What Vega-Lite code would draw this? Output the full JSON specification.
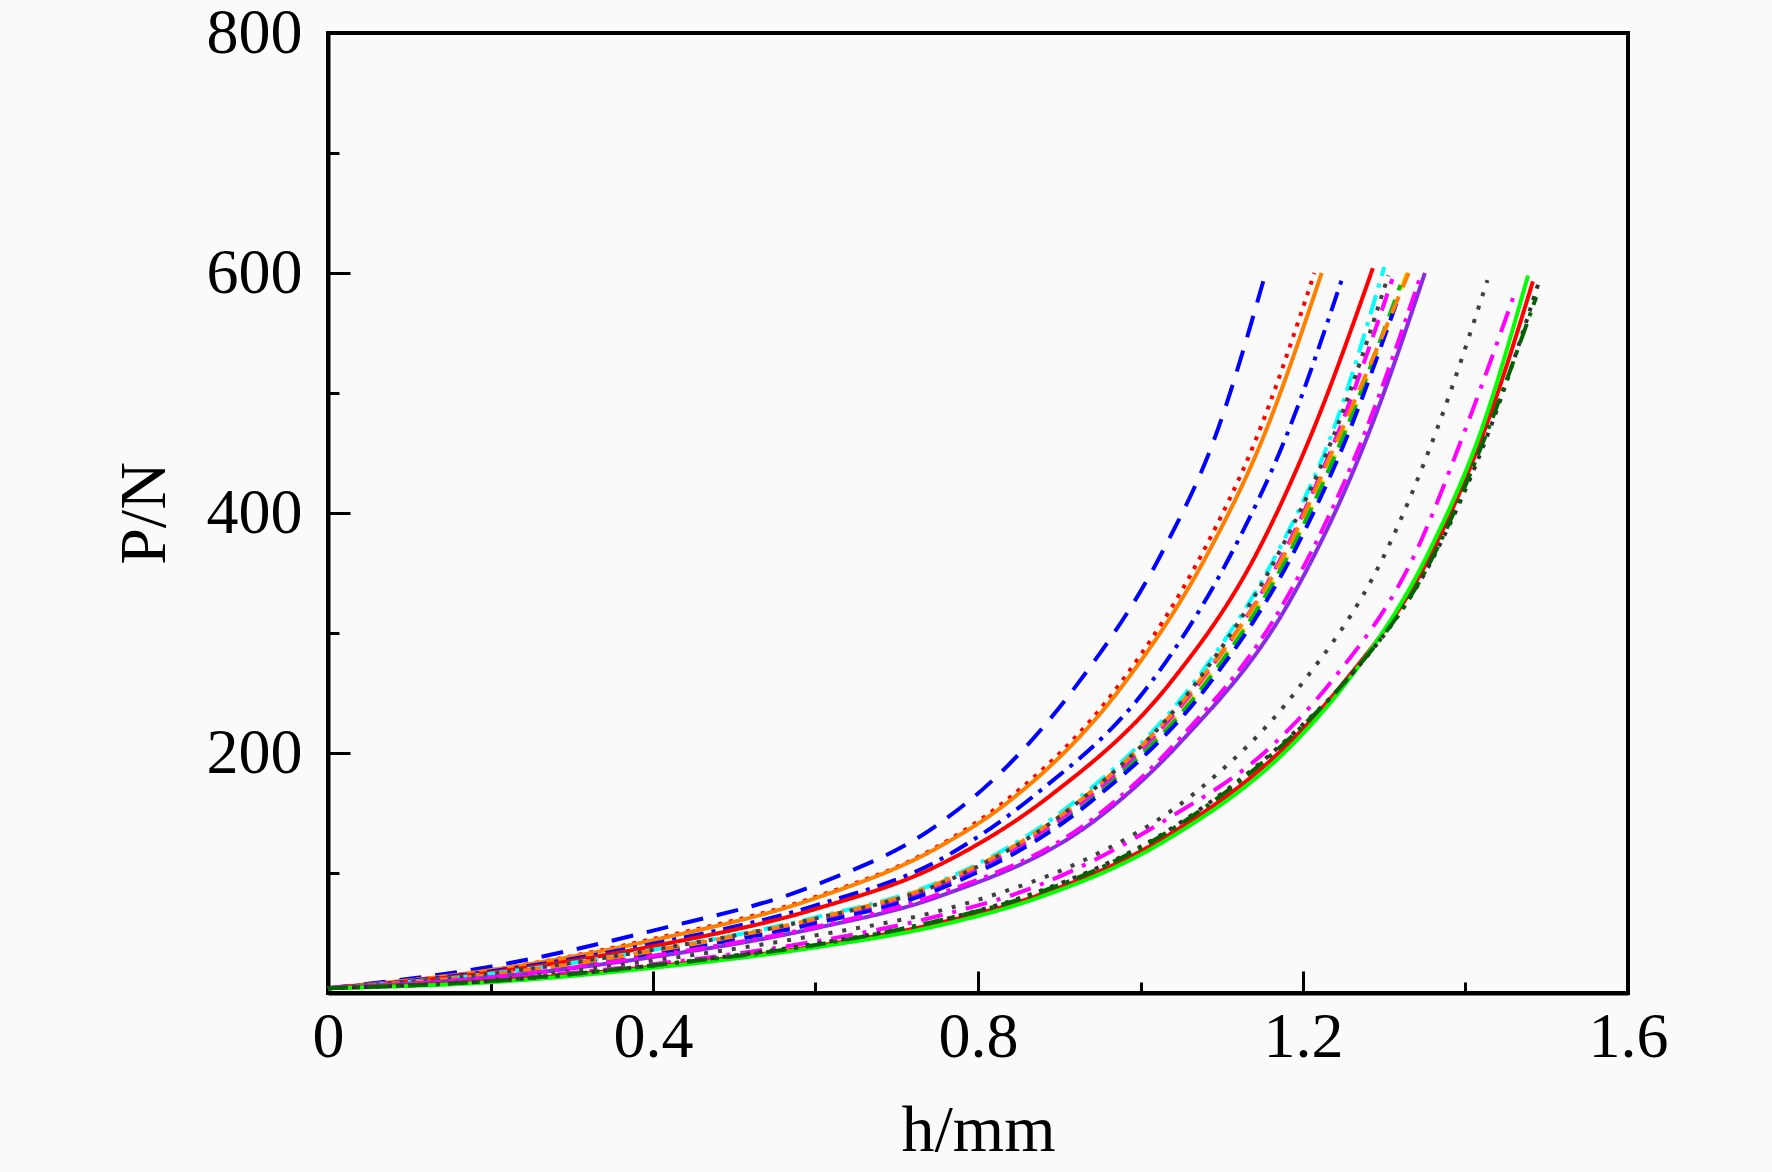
{
  "$schema": "https://vega.github.io/schema/vega-lite/v6.json",
  "width": 1300,
  "height": 960,
  "autosize": {"type": "none"},
  "padding": {"left": 328, "top": 33, "right": 144, "bottom": 179},
  "background": "#FAFAFA",
  "config": {
    "view": {"stroke": "#000000", "strokeWidth": 4},
    "axis": {
      "domainColor": "#000000", "domainWidth": 4,
      "tickColor": "#000000", "tickWidth": 3,
      "labelFont": "Liberation Serif", "labelFontSize": 64, "labelColor": "#000000",
      "titleFont": "Liberation Serif", "titleFontSize": 66, "titleFontWeight": "normal", "titleColor": "#000000",
      "grid": false, "labelOverlap": false, "labelFlush": false, "labelBound": false
    }
  },
  "data": {
    "values": [
      {"s": "c01", "h": 0, "P": 4}, {"s": "c01", "h": 0.2, "P": 22}, {"s": "c01", "h": 0.4, "P": 52}, {"s": "c01", "h": 0.6, "P": 90}, {"s": "c01", "h": 0.75, "P": 140}, {"s": "c01", "h": 0.83, "P": 185}, {"s": "c01", "h": 0.923, "P": 258}, {"s": "c01", "h": 1.028, "P": 369}, {"s": "c01", "h": 1.09, "P": 460}, {"s": "c01", "h": 1.154, "P": 600},
      {"s": "c02", "h": 0, "P": 4}, {"s": "c02", "h": 0.2, "P": 19}, {"s": "c02", "h": 0.4, "P": 45}, {"s": "c02", "h": 0.6, "P": 80}, {"s": "c02", "h": 0.75, "P": 122}, {"s": "c02", "h": 0.83, "P": 158}, {"s": "c02", "h": 0.975, "P": 258}, {"s": "c02", "h": 1.078, "P": 369}, {"s": "c02", "h": 1.14, "P": 458}, {"s": "c02", "h": 1.214, "P": 600},
      {"s": "c03", "h": 0, "P": 4}, {"s": "c03", "h": 0.2, "P": 19}, {"s": "c03", "h": 0.4, "P": 44}, {"s": "c03", "h": 0.6, "P": 79}, {"s": "c03", "h": 0.75, "P": 121}, {"s": "c03", "h": 0.835, "P": 158}, {"s": "c03", "h": 0.98, "P": 258}, {"s": "c03", "h": 1.085, "P": 369}, {"s": "c03", "h": 1.148, "P": 458}, {"s": "c03", "h": 1.223, "P": 600},
      {"s": "c04", "h": 0, "P": 4}, {"s": "c04", "h": 0.2, "P": 18}, {"s": "c04", "h": 0.4, "P": 41}, {"s": "c04", "h": 0.6, "P": 73}, {"s": "c04", "h": 0.75, "P": 110}, {"s": "c04", "h": 0.87, "P": 165}, {"s": "c04", "h": 1.012, "P": 258}, {"s": "c04", "h": 1.114, "P": 369}, {"s": "c04", "h": 1.177, "P": 460}, {"s": "c04", "h": 1.248, "P": 595},
      {"s": "c05", "h": 0, "P": 4}, {"s": "c05", "h": 0.2, "P": 17}, {"s": "c05", "h": 0.4, "P": 39}, {"s": "c05", "h": 0.6, "P": 70}, {"s": "c05", "h": 0.75, "P": 106}, {"s": "c05", "h": 0.89, "P": 165}, {"s": "c05", "h": 1.036, "P": 258}, {"s": "c05", "h": 1.145, "P": 369}, {"s": "c05", "h": 1.21, "P": 465}, {"s": "c05", "h": 1.286, "P": 604},
      {"s": "c06", "h": 0, "P": 4}, {"s": "c06", "h": 0.2, "P": 15}, {"s": "c06", "h": 0.4, "P": 35}, {"s": "c06", "h": 0.6, "P": 61}, {"s": "c06", "h": 0.75, "P": 90}, {"s": "c06", "h": 0.93, "P": 160}, {"s": "c06", "h": 1.078, "P": 258}, {"s": "c06", "h": 1.185, "P": 369}, {"s": "c06", "h": 1.25, "P": 465}, {"s": "c06", "h": 1.328, "P": 600},
      {"s": "c07", "h": 0, "P": 4}, {"s": "c07", "h": 0.2, "P": 16}, {"s": "c07", "h": 0.4, "P": 36}, {"s": "c07", "h": 0.6, "P": 63}, {"s": "c07", "h": 0.75, "P": 92}, {"s": "c07", "h": 0.92, "P": 160}, {"s": "c07", "h": 1.065, "P": 258}, {"s": "c07", "h": 1.17, "P": 369}, {"s": "c07", "h": 1.235, "P": 465}, {"s": "c07", "h": 1.3, "P": 605},
      {"s": "c08", "h": 0, "P": 4}, {"s": "c08", "h": 0.2, "P": 15}, {"s": "c08", "h": 0.4, "P": 34}, {"s": "c08", "h": 0.6, "P": 60}, {"s": "c08", "h": 0.75, "P": 88}, {"s": "c08", "h": 0.935, "P": 160}, {"s": "c08", "h": 1.08, "P": 258}, {"s": "c08", "h": 1.185, "P": 369}, {"s": "c08", "h": 1.25, "P": 465}, {"s": "c08", "h": 1.32, "P": 590},
      {"s": "c09", "h": 0, "P": 4}, {"s": "c09", "h": 0.2, "P": 15}, {"s": "c09", "h": 0.4, "P": 35}, {"s": "c09", "h": 0.6, "P": 61}, {"s": "c09", "h": 0.75, "P": 89}, {"s": "c09", "h": 0.93, "P": 160}, {"s": "c09", "h": 1.072, "P": 258}, {"s": "c09", "h": 1.178, "P": 369}, {"s": "c09", "h": 1.242, "P": 465}, {"s": "c09", "h": 1.31, "P": 595},
      {"s": "c10", "h": 0, "P": 4}, {"s": "c10", "h": 0.2, "P": 14}, {"s": "c10", "h": 0.4, "P": 33}, {"s": "c10", "h": 0.6, "P": 58}, {"s": "c10", "h": 0.75, "P": 86}, {"s": "c10", "h": 0.94, "P": 160}, {"s": "c10", "h": 1.085, "P": 258}, {"s": "c10", "h": 1.19, "P": 369}, {"s": "c10", "h": 1.255, "P": 465}, {"s": "c10", "h": 1.315, "P": 575},
      {"s": "c11", "h": 0, "P": 4}, {"s": "c11", "h": 0.2, "P": 15}, {"s": "c11", "h": 0.4, "P": 35}, {"s": "c11", "h": 0.6, "P": 62}, {"s": "c11", "h": 0.75, "P": 91}, {"s": "c11", "h": 0.925, "P": 160}, {"s": "c11", "h": 1.07, "P": 258}, {"s": "c11", "h": 1.18, "P": 369}, {"s": "c11", "h": 1.245, "P": 465}, {"s": "c11", "h": 1.33, "P": 600},
      {"s": "c12", "h": 0, "P": 4}, {"s": "c12", "h": 0.2, "P": 16}, {"s": "c12", "h": 0.4, "P": 36}, {"s": "c12", "h": 0.6, "P": 62}, {"s": "c12", "h": 0.75, "P": 90}, {"s": "c12", "h": 0.925, "P": 160}, {"s": "c12", "h": 1.068, "P": 258}, {"s": "c12", "h": 1.172, "P": 369}, {"s": "c12", "h": 1.238, "P": 465}, {"s": "c12", "h": 1.305, "P": 598},
      {"s": "c13", "h": 0, "P": 4}, {"s": "c13", "h": 0.2, "P": 13}, {"s": "c13", "h": 0.4, "P": 30}, {"s": "c13", "h": 0.6, "P": 54}, {"s": "c13", "h": 0.75, "P": 80}, {"s": "c13", "h": 0.95, "P": 147}, {"s": "c13", "h": 1.052, "P": 211}, {"s": "c13", "h": 1.184, "P": 327}, {"s": "c13", "h": 1.28, "P": 465}, {"s": "c13", "h": 1.35, "P": 600},
      {"s": "c14", "h": 0, "P": 4}, {"s": "c14", "h": 0.2, "P": 13}, {"s": "c14", "h": 0.4, "P": 31}, {"s": "c14", "h": 0.6, "P": 55}, {"s": "c14", "h": 0.75, "P": 82}, {"s": "c14", "h": 0.945, "P": 147}, {"s": "c14", "h": 1.047, "P": 211}, {"s": "c14", "h": 1.178, "P": 327}, {"s": "c14", "h": 1.275, "P": 465}, {"s": "c14", "h": 1.345, "P": 598},
      {"s": "c15", "h": 0, "P": 4}, {"s": "c15", "h": 0.2, "P": 11}, {"s": "c15", "h": 0.4, "P": 27}, {"s": "c15", "h": 0.6, "P": 48}, {"s": "c15", "h": 0.75, "P": 68}, {"s": "c15", "h": 0.825, "P": 83}, {"s": "c15", "h": 0.922, "P": 108}, {"s": "c15", "h": 1.071, "P": 169}, {"s": "c15", "h": 1.192, "P": 252}, {"s": "c15", "h": 1.303, "P": 369}, {"s": "c15", "h": 1.365, "P": 470}, {"s": "c15", "h": 1.427, "P": 594},
      {"s": "c16", "h": 0, "P": 4}, {"s": "c16", "h": 0.2, "P": 11}, {"s": "c16", "h": 0.4, "P": 24}, {"s": "c16", "h": 0.6, "P": 43}, {"s": "c16", "h": 0.75, "P": 64}, {"s": "c16", "h": 0.868, "P": 88}, {"s": "c16", "h": 1.033, "P": 145}, {"s": "c16", "h": 1.16, "P": 205}, {"s": "c16", "h": 1.233, "P": 258}, {"s": "c16", "h": 1.34, "P": 369}, {"s": "c16", "h": 1.4, "P": 470}, {"s": "c16", "h": 1.46, "P": 582},
      {"s": "c17", "h": 0, "P": 4}, {"s": "c17", "h": 0.2, "P": 10}, {"s": "c17", "h": 0.4, "P": 22}, {"s": "c17", "h": 0.6, "P": 39}, {"s": "c17", "h": 0.75, "P": 58}, {"s": "c17", "h": 0.868, "P": 80}, {"s": "c17", "h": 1.033, "P": 131}, {"s": "c17", "h": 1.194, "P": 216}, {"s": "c17", "h": 1.248, "P": 257}, {"s": "c17", "h": 1.36, "P": 369}, {"s": "c17", "h": 1.424, "P": 470}, {"s": "c17", "h": 1.483, "P": 593},
      {"s": "c18", "h": 0, "P": 4}, {"s": "c18", "h": 0.2, "P": 9}, {"s": "c18", "h": 0.4, "P": 21}, {"s": "c18", "h": 0.6, "P": 38}, {"s": "c18", "h": 0.75, "P": 56}, {"s": "c18", "h": 0.868, "P": 78}, {"s": "c18", "h": 1.033, "P": 128}, {"s": "c18", "h": 1.194, "P": 212}, {"s": "c18", "h": 1.248, "P": 254}, {"s": "c18", "h": 1.356, "P": 369}, {"s": "c18", "h": 1.42, "P": 470}, {"s": "c18", "h": 1.477, "P": 598},
      {"s": "c19", "h": 0, "P": 4}, {"s": "c19", "h": 0.2, "P": 10}, {"s": "c19", "h": 0.4, "P": 23}, {"s": "c19", "h": 0.6, "P": 41}, {"s": "c19", "h": 0.75, "P": 60}, {"s": "c19", "h": 0.868, "P": 83}, {"s": "c19", "h": 1.033, "P": 135}, {"s": "c19", "h": 1.194, "P": 220}, {"s": "c19", "h": 1.25, "P": 258}, {"s": "c19", "h": 1.365, "P": 369}, {"s": "c19", "h": 1.43, "P": 470}, {"s": "c19", "h": 1.49, "P": 592},
      {"s": "c20", "h": 0, "P": 4}, {"s": "c20", "h": 0.2, "P": 10}, {"s": "c20", "h": 0.4, "P": 23}, {"s": "c20", "h": 0.6, "P": 40}, {"s": "c20", "h": 0.75, "P": 60}, {"s": "c20", "h": 0.868, "P": 82}, {"s": "c20", "h": 1.033, "P": 134}, {"s": "c20", "h": 1.194, "P": 219}, {"s": "c20", "h": 1.25, "P": 258}, {"s": "c20", "h": 1.364, "P": 369}, {"s": "c20", "h": 1.428, "P": 470}, {"s": "c20", "h": 1.487, "P": 580}
    ]
  },
  "mark": {"type": "line", "strokeWidth": 4, "interpolate": "monotone", "strokeCap": "butt"},
  "encoding": {
    "x": {
      "field": "h", "type": "quantitative",
      "scale": {"domain": [0, 1.6], "nice": false},
      "axis": {
        "title": "h/mm",
        "values": [0, 0.2, 0.4, 0.6, 0.8, 1.0, 1.2, 1.4, 1.6],
        "tickSize": {"condition": {"test": "round(datum.value * 10) % 4 == 0", "value": -22}, "value": -11},
        "labelExpr": "round(datum.value * 10) % 4 == 0 ? format(datum.value, '~g') : ''",
        "labelPadding": 34,
        "titleBaseline": "alphabetic",
        "titleY": 157
      }
    },
    "y": {
      "field": "P", "type": "quantitative",
      "scale": {"domain": [0, 800], "nice": false},
      "axis": {
        "title": "P/N",
        "values": [0, 100, 200, 300, 400, 500, 600, 700, 800],
        "tickSize": {"condition": {"test": "round(datum.value) % 200 == 0", "value": -22}, "value": -11},
        "labelExpr": "datum.value > 0 && round(datum.value) % 200 == 0 ? datum.label : ''",
        "labelPadding": 48,
        "titleBaseline": "alphabetic",
        "titleX": -164,
        "titleY": 480
      }
    },
    "color": {
      "field": "s", "type": "nominal", "legend": null,
      "scale": {
        "domain": ["c01", "c02", "c03", "c04", "c05", "c06", "c07", "c08", "c09", "c10", "c11", "c12", "c13", "c14", "c15", "c16", "c17", "c18", "c19", "c20"],
        "range": ["#0000FF", "#FF0000", "#FF8000", "#0000FF", "#FF0000", "#FFD800", "#00FFFF", "#00C000", "#FF00FF", "#0000FF", "#FF8000", "#404040", "#8A2BE2", "#FF00FF", "#404040", "#FF00FF", "#FF0000", "#00FF00", "#303030", "#006400"]
      }
    },
    "strokeDash": {
      "field": "s", "type": "nominal", "legend": null,
      "scale": {
        "domain": ["c01", "c02", "c03", "c04", "c05", "c06", "c07", "c08", "c09", "c10", "c11", "c12", "c13", "c14", "c15", "c16", "c17", "c18", "c19", "c20"],
        "range": [[22, 14], [4, 7], [1, 0], [20, 8, 4, 8], [1, 0], [18, 10], [20, 8, 4, 8], [18, 10], [18, 10], [18, 10], [18, 10], [4, 8], [1, 0], [20, 8, 4, 8], [4, 10], [22, 10, 4, 10], [1, 0], [1, 0], [4, 8], [20, 8, 4, 8]]
      }
    }
  }
}
